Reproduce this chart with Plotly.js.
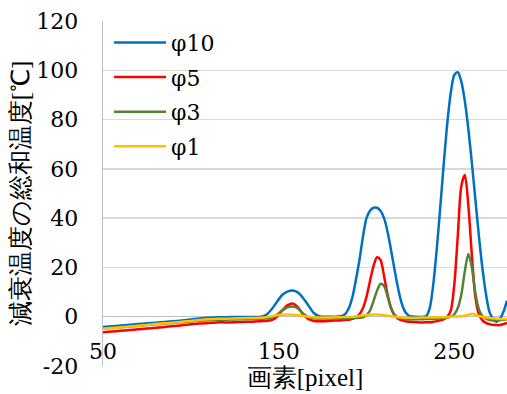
<!DOCTYPE html>
<html>
<head>
<meta charset="utf-8">
<script src="https://cdn.plot.ly/plotly-3.0.1.min.js"></script>
<style>html,body{margin:0;padding:0;background:#fff;}#chart{width:507px;height:394px;}</style>
</head>
<body>
<div id="chart"></div>
<script>
const pixelX = [50,55,60,65,70,75,80,85,90,95,100,105,110,115,120,125,130,135,140,
143,146,149,152,155,158,161,164,167,170,173,176,
180,184,
186,188,190,192,194,196,198,200,202,204,206,208,210,212,214,216,218,220,222,224,226,
230,
232,234,236,238,240,242,244,246,248,250,252,254,256,258,260,262,264,266,268,270,272,274,276,278,280];

const phi10 = [-4.2,-3.9,-3.6,-3.3,-3.0,-2.7,-2.4,-2.1,-1.8,-1.5,-1.1,-0.7,-0.4,-0.2,-0.2,-0.1,-0.1,-0.1,0.0,
0.8,3.0,6.0,8.8,10.2,10.6,9.8,7.5,4.5,1.5,0.2,0.0,
0.0,0.1,
0.3,1.2,3.5,8.0,15.0,23.0,32.5,40.0,43.0,44.2,44.2,43.0,40.0,34.5,27.0,19.0,11.5,5.5,2.0,0.5,0.1,
-0.1,
0.0,0.3,3.5,13.0,27.3,44.4,62.2,78.5,90.9,98.1,99.2,95.4,87.5,76.1,62.4,47.5,32.8,19.7,9.3,2.0,-0.8,-2.0,-0.8,2.0,6.5];

const phi5 = [-6.3,-6.0,-5.7,-5.4,-5.1,-4.8,-4.5,-4.2,-3.8,-3.5,-3.1,-2.8,-2.5,-2.3,-2.3,-2.2,-2.1,-2.0,-1.8,
-1.7,-1.4,0.0,2.5,4.6,5.4,3.8,0.8,-1.0,-1.7,-1.8,-1.8,
-1.6,-1.5,
-1.4,-1.3,-1.2,-0.9,-0.3,1.0,3.5,8.0,14.5,20.5,24.1,23.0,16.5,9.0,3.5,0.5,-0.8,-1.5,-1.8,-2.0,-2.1,
-2.3,
-2.3,-2.2,-2.2,-2.1,-1.8,-1.5,-1.0,0.0,2.5,13.0,33.0,53.0,57.5,45.0,25.0,8.0,1.0,-1.5,-2.5,-3.0,-3.3,-3.4,-3.4,-3.0,-2.5];

const phi3 = [-4.8,-4.5,-4.3,-4.0,-3.7,-3.4,-3.1,-2.8,-2.5,-2.2,-1.9,-1.6,-1.4,-1.3,-1.2,-1.1,-1.0,-0.9,-0.8,
-0.7,-0.3,0.8,2.5,3.8,4.1,3.4,1.2,-0.2,-0.6,-0.7,-0.7,
-0.7,-0.6,
-0.6,-0.6,-0.6,-0.5,-0.5,-0.4,-0.2,0.6,2.5,6.3,10.5,13.3,12.5,8.2,3.5,0.8,-0.3,-0.7,-0.9,-1.0,-1.0,
-1.0,
-1.0,-0.9,-0.9,-0.9,-0.8,-0.7,-0.6,-0.4,0.0,1.0,3.5,9.0,18.5,25.5,20.0,9.5,3.0,0.3,-0.8,-1.3,-1.5,-1.5,-1.4,-1.2,-1.0];

const phi1 = [-4.9,-4.6,-4.3,-4.0,-3.7,-3.4,-3.0,-2.7,-2.4,-2.0,-1.7,-1.3,-1.0,-0.8,-0.8,-0.7,-0.6,-0.5,-0.4,
-0.2,0.2,0.6,0.8,0.9,0.8,0.6,0.3,0.0,-0.2,-0.3,-0.3,
-0.3,-0.2,
-0.2,-0.1,-0.1,0.0,0.1,0.3,0.5,0.6,0.8,0.9,0.9,0.8,0.6,0.4,0.2,0.0,-0.2,-0.3,-0.4,-0.4,-0.4,
-0.4,
-0.3,-0.3,-0.3,-0.3,-0.3,-0.2,-0.2,-0.1,0.0,0.1,0.1,0.2,0.4,0.8,1.2,0.8,0.3,0.0,-0.3,-0.5,-0.7,-0.8,-0.9,-0.9,-1.0];

const seriesNames = ['φ10','φ5','φ3','φ1'];
const seriesData = [phi10, phi5, phi3, phi1];
const seriesColors = ['#0070C0','#FF0000','#548235','#FFC000'];

const xTicks = [50,150,250];
const yTicks = [-20,0,20,40,60,80,100,120];

const NUMFONT = 'DejaVu Serif';
const TITLEFONT = 'Liberation Serif';

const traces = seriesData.map((ys, i) => ({
  x: pixelX, y: ys, type: 'scatter', mode: 'lines', name: seriesNames[i],
  legendgroup: 'g' + i,
  line: {color: seriesColors[i], width: 2.5, shape: 'spline', smoothing: 0.8}
}));

const layout = {
  width: 507, height: 394,
  margin: {l: 103, r: 0, t: 21, b: 28},
  paper_bgcolor: '#fff', plot_bgcolor: '#fff',
  font: {family: NUMFONT, size: 22, color: '#000'},
  showlegend: true,
  legend: {x: 0.015, y: 0.998, xanchor: 'left', yanchor: 'top', bgcolor: 'rgba(0,0,0,0)',
    font: {family: NUMFONT, size: 22, color: '#000'}, itemwidth: 52, tracegroupgap: 3},
  xaxis: {
    range: [50, 280], tickvals: xTicks, ticktext: xTicks.map(String),
    showgrid: false, zeroline: false, showline: false, ticks: '',
    ticklabelstandoff: -30,
    tickfont: {family: NUMFONT, size: 22, color: '#000'},
    title: {text: '画素[pixel]', font: {family: TITLEFONT, size: 25, color: '#000'}, standoff: 2}
  },
  yaxis: {
    range: [-20, 120], tickvals: yTicks, ticktext: yTicks.map(String),
    showgrid: true, gridcolor: '#d9d9d9', gridwidth: 1.3,
    zeroline: true, zerolinecolor: '#bfbfbf', zerolinewidth: 1.5,
    showline: true, linecolor: '#bfbfbf', linewidth: 1.3, ticks: '',
    ticklabelstandoff: 19,
    tickfont: {family: NUMFONT, size: 22, color: '#000'},
    title: {text: '減衰温度の総和温度[℃]', font: {family: TITLEFONT, size: 25, color: '#000'}}
  }
};

Plotly.newPlot('chart', traces, layout, {displayModeBar: false, staticPlot: true});
</script>
</body>
</html>
